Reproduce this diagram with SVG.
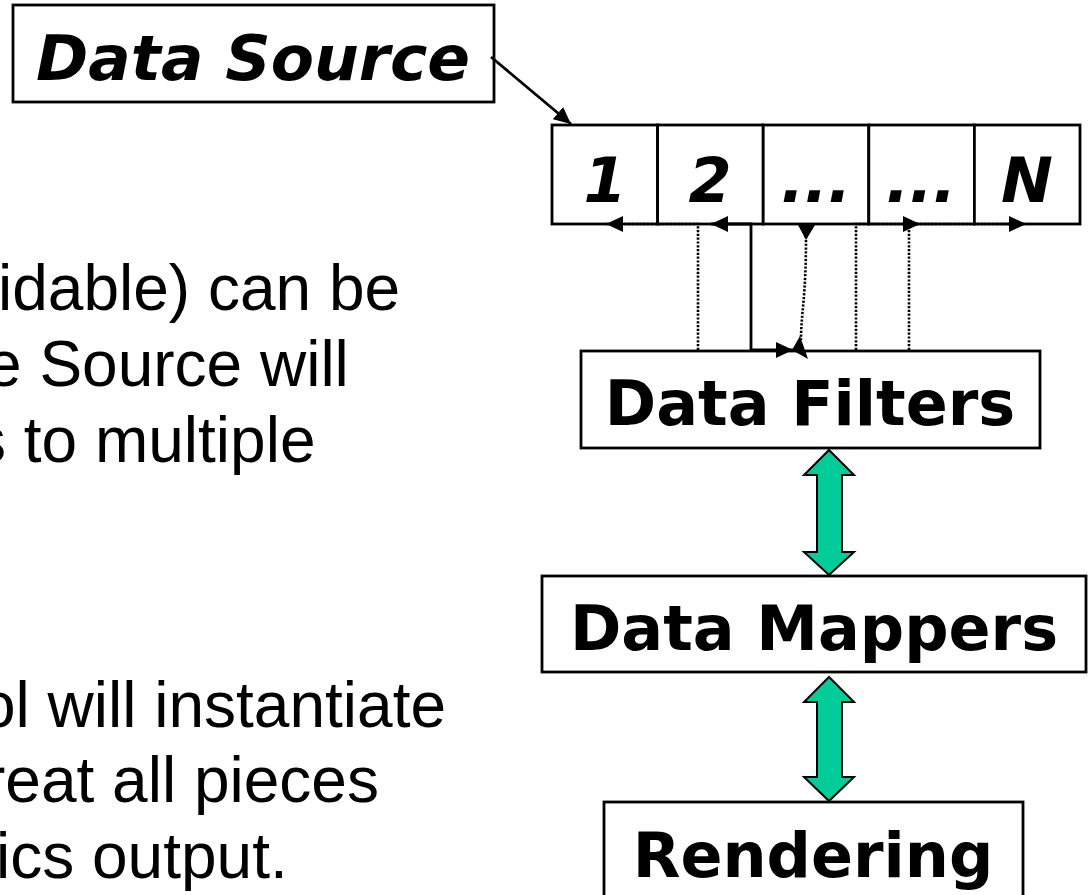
<svg xmlns="http://www.w3.org/2000/svg" width="1090" height="895" viewBox="0 0 1090 895">
<style>
.box{fill:#fff;stroke:#000;stroke-width:2.8}
.lbl{font-family:"DejaVu Sans",Verdana,sans-serif;font-weight:bold;font-size:62px;text-anchor:middle;fill:#000}
.it{font-style:italic}
.body{font-family:"Liberation Sans",Arial,sans-serif;font-size:64px;fill:#000}
.solid{fill:none;stroke:#000;stroke-width:2.8}
.dot{fill:none;stroke:#000;stroke-width:2.6;stroke-dasharray:2.2 1.6}
.head{fill:#000;stroke:none}
.big{fill:#00CC99;stroke:#000;stroke-width:2}
</style>
<defs>
<marker id="ah" markerUnits="userSpaceOnUse" markerWidth="18" markerHeight="18" viewBox="0 0 18 18" refX="17" refY="9" orient="auto-start-reverse">
<path class="head" d="M0,1 L17,9 L0,17 Z"/>
</marker>
</defs>

<g id="text-body">
<text class="body" x="-2" y="310">idable) can be</text>
<text class="body" x="-14" y="386">e Source will</text>
<text class="body" x="-26" y="462">s to multiple</text>
<text class="body" x="-20" y="727">ol will instantiate</text>
<text class="body" x="-16" y="802">reat all pieces</text>
<text class="body" x="-4" y="878">ics output.</text>
</g>

<g id="data-source">
<rect class="box" x="13" y="5" width="481" height="97"/>
<text class="lbl it" x="253" y="80" style="font-size:63px">Data Source</text>
</g>

<g id="cells">
<g id="cell-1"><rect class="box" x="552" y="125" width="105.6" height="99"/><text class="lbl it" x="605" y="202">1</text></g>
<g id="cell-2"><rect class="box" x="657.6" y="125" width="105.6" height="99"/><text class="lbl it" x="710" y="202">2</text></g>
<g id="cell-3"><rect class="box" x="763.2" y="125" width="105.6" height="99"/><text class="lbl it" x="816" y="202">...</text></g>
<g id="cell-4"><rect class="box" x="868.8" y="125" width="105.6" height="99"/><text class="lbl it" x="921" y="202">...</text></g>
<g id="cell-N"><rect class="box" x="974.4" y="125" width="105.6" height="99"/><text class="lbl it" x="1027" y="202">N</text></g>
</g>

<g id="data-filters">
<rect class="box" x="581" y="351" width="459" height="97"/>
<text class="lbl" x="810" y="425">Data Filters</text>
</g>

<g id="data-mappers">
<rect class="box" x="542" y="576" width="544" height="96"/>
<text class="lbl" x="814" y="650">Data Mappers</text>
</g>

<g id="rendering">
<rect class="box" x="604" y="802" width="419" height="110"/>
<text class="lbl" x="813" y="877">Rendering</text>
</g>

<g id="connectors">
<path class="solid" d="M491,57 L571,124" marker-end="url(#ah)"/>
<path class="dot" d="M698,350 V224 H606" marker-end="url(#ah)"/>
<path class="solid" d="M711,224 H751 V350 H793" marker-start="url(#ah)" marker-end="url(#ah)"/>
<path class="dot" d="M806,236 C806,300 801,312 801,340"/>
<polygon class="head" points="798,225 815,225 806,240"/>
<polygon class="head" points="792,350 800,336 808,359"/>
<path class="dot" d="M856,350 V224 H920" marker-end="url(#ah)"/>
<path class="dot" d="M909,350 V224 H1026" marker-end="url(#ah)"/>
<polygon class="big" points="829,450 854,475 842,475 842,552 854,552 829,575 804,552 817,552 817,475 804,475"/>
<polygon class="big" points="829,677 854,702 842,702 842,777 854,777 829,801 804,777 817,777 817,702 804,702"/>
</g>
</svg>
